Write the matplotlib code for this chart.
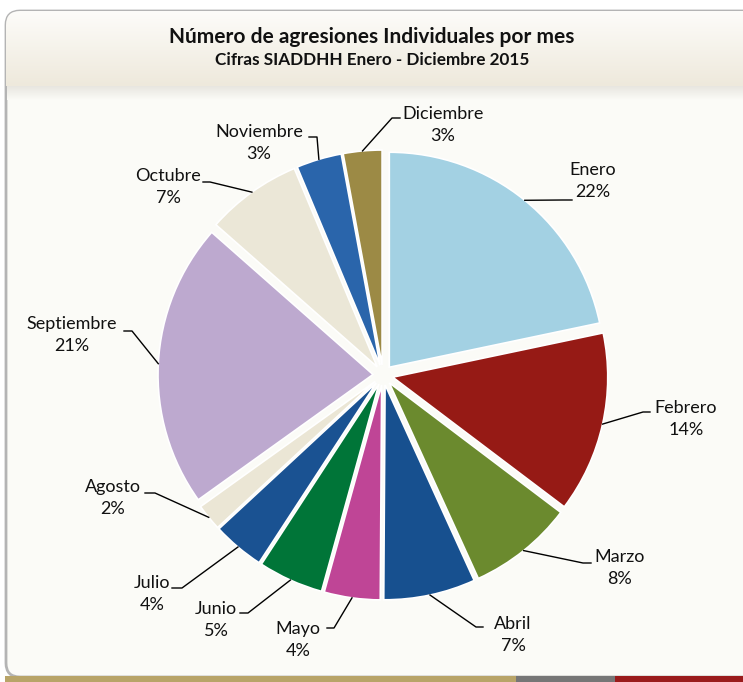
import numpy as np
import matplotlib.pyplot as plt
from matplotlib.patches import FancyBboxPatch, Rectangle
from matplotlib.colors import LinearSegmentedColormap

# data (percent of individual aggressions per month, SIADDHH 2015)
months = ["Enero", "Febrero", "Marzo", "Abril", "Mayo", "Junio",
          "Julio", "Agosto", "Septiembre", "Octubre", "Noviembre", "Diciembre"]
shares = [21.7, 13.6, 7.9, 6.9, 4.2, 4.9, 3.9, 2.0, 21.4, 7.2, 3.4, 2.9]
colors = ["#a3d1e3", "#961a15", "#6b8a2e", "#17508f", "#bf4596", "#007538",
          "#1a5292", "#ebe6d5", "#bda9cf", "#ebe7d7", "#2a65ab", "#9c8a45"]

title = "Número de agresiones Individuales por mes"
subtitle = "Cifras SIADDHH Enero - Diciembre 2015"

# layout in pixel coords (y down)
W, H = 743, 682
CENTER = (383, 375)
R = 215
EXPL = 10
# label block centre, leader elbow, leader end
label_pos = [(593, 181), (686, 419), (620, 568), (513, 635), (298, 640), (216, 620),
             (152, 594), (113, 498), (72, 335), (168, 187), (259, 143), (443, 125)]
elbows = [(563, 200), (643, 412), (583, 563), (476, 627), (334, 628), (248, 613),
          (182, 588), (155, 493), (132, 331), (210, 182), (317, 137), (392, 118)]
tick_ends = [(572, 200), (650, 412), (591, 563), (483, 627), (327, 628), (240, 613),
             (172, 588), (145, 493), (124, 331), (203, 182), (309, 137), (400, 118)]

FONT = "Lato"

fig = plt.figure(figsize=(W / 100, H / 100), dpi=100)
fig.patch.set_facecolor("white")
ax = fig.add_axes([0, 0, 1, 1])

# frame + title band
frame = FancyBboxPatch((6, 11), 820, 666, boxstyle="round,pad=0,rounding_size=14",
                       fc="#fbfbf7", ec="#b4b4b4", lw=2, zorder=0)
ax.add_patch(frame)
band_cmap = LinearSegmentedColormap.from_list("band", ["#fdfcf9", "#eee9dc"])
band = ax.imshow(np.linspace(0, 1, 100).reshape(-1, 1), cmap=band_cmap, aspect="auto",
                 extent=[6, 760, 86, 11], zorder=1)
band.set_clip_path(frame)
shade_cmap = LinearSegmentedColormap.from_list("shade", ["#e8e6e0", "#fbfbf7"])
shade = ax.imshow(np.linspace(0, 1, 100).reshape(-1, 1), cmap=shade_cmap, aspect="auto",
                  extent=[7, 760, 100, 86], zorder=1)
shade.set_clip_path(frame)

ax.text(372, 37, title, ha="center", va="center", fontsize=15, fontweight="bold",
        family=FONT, color="#111111", zorder=5)
ax.text(372, 60, subtitle, ha="center", va="center", fontsize=12.3, fontweight="bold",
        family=FONT, color="#111111", zorder=5)

# bottom stripes
ax.add_patch(Rectangle((5, 676), 511, 6, fc="#b8a468", ec="none", zorder=3))
ax.add_patch(Rectangle((516, 676), 99, 6, fc="#767676", ec="none", zorder=3))
ax.add_patch(Rectangle((615, 676), 140, 6, fc="#9a1b1b", ec="none", zorder=3))

# pie (y axis inverted, so startangle -90 = top and counterclock draws clockwise)
wedges, _ = ax.pie(shares, colors=colors, startangle=-90, counterclock=True,
                   center=CENTER, radius=R, explode=[EXPL] * len(shares),
                   wedgeprops=dict(edgecolor="white", linewidth=1.2))
for w in wedges:
    w.set_zorder(2)

total = sum(shares)
for w, name, v, lp, el, te in zip(wedges, months, shares, label_pos, elbows, tick_ends):
    tm = np.deg2rad((w.theta1 + w.theta2) / 2)
    cx, cy = w.center
    arc_pt = (cx + w.r * np.cos(tm), cy + w.r * np.sin(tm))
    ax.plot([arc_pt[0], el[0], te[0]], [arc_pt[1], el[1], te[1]], color="black", lw=1, zorder=3)
    ax.text(lp[0], lp[1], f"{name}\n{v / total * 100:.0f}%", ha="center", va="center",
            fontsize=13, family=FONT, linespacing=1.42, color="#111111", zorder=5)

ax.set_xlim(0, W)
ax.set_ylim(H, 0)
ax.set_aspect("auto")
ax.axis("off")

fig.savefig("out.png", dpi=100, facecolor=fig.get_facecolor())
